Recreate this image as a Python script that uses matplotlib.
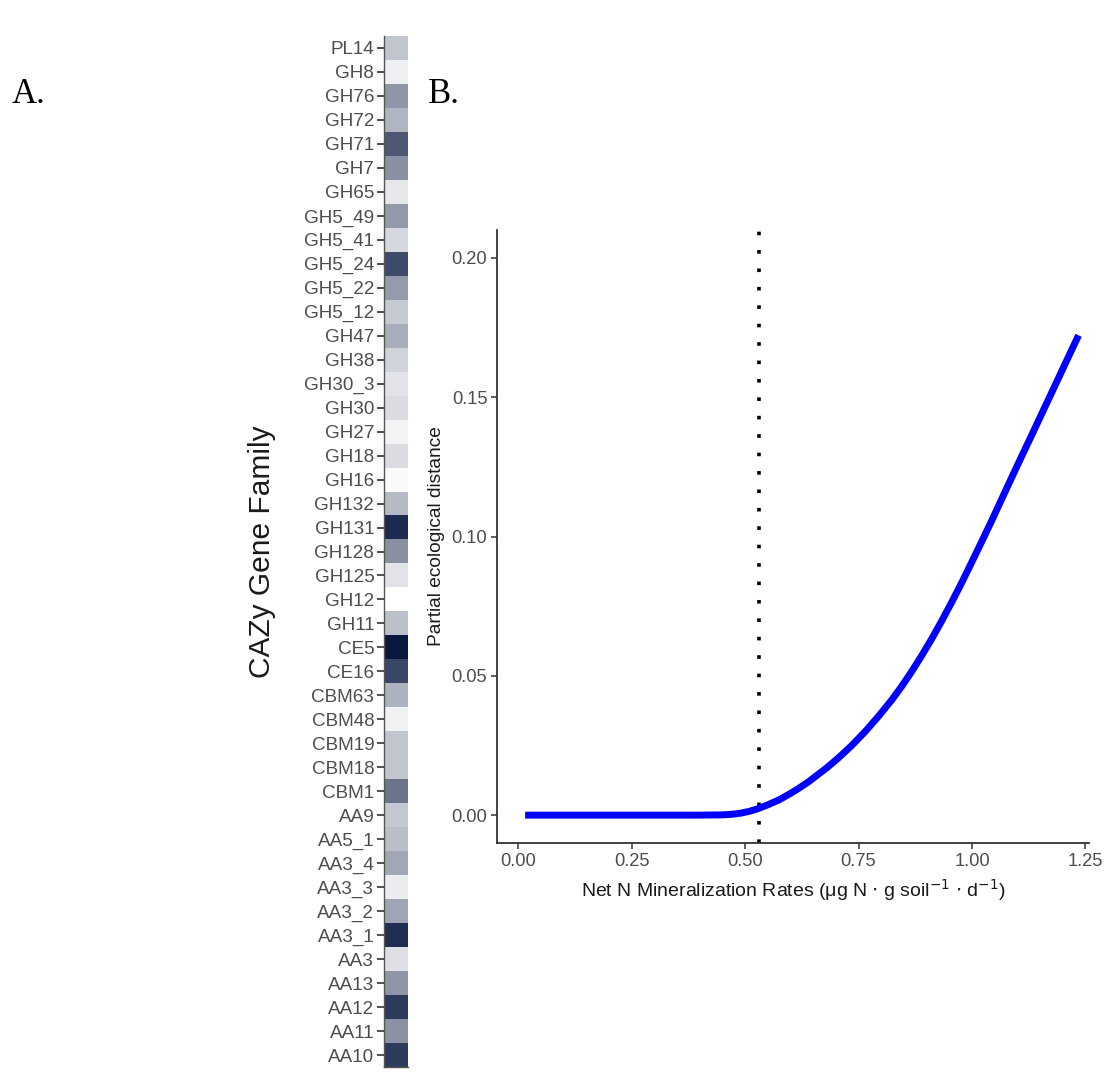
import matplotlib
matplotlib.use("Agg")
import matplotlib.pyplot as plt
from matplotlib.colors import LinearSegmentedColormap
import numpy as np

plt.rcParams["font.family"] = ["Liberation Sans", "DejaVu Sans"]

# panel A: CAZy gene families, top to bottom, with relative abundance (0-1)
families = [
    "PL14", "GH8", "GH76", "GH72", "GH71", "GH7", "GH65", "GH5_49", "GH5_41",
    "GH5_24", "GH5_22", "GH5_12", "GH47", "GH38", "GH30_3", "GH30", "GH27",
    "GH18", "GH16", "GH132", "GH131", "GH128", "GH125", "GH12", "GH11", "CE5",
    "CE16", "CBM63", "CBM48", "CBM19", "CBM18", "CBM1", "AA9", "AA5_1",
    "AA3_4", "AA3_3", "AA3_2", "AA3_1", "AA3", "AA13", "AA12", "AA11", "AA10",
]
abundance = [
    0.25, 0.07, 0.45, 0.32, 0.72, 0.48, 0.10, 0.44, 0.17,
    0.78, 0.43, 0.23, 0.35, 0.19, 0.12, 0.15, 0.05,
    0.15, 0.02, 0.30, 0.92, 0.48, 0.12, 0.00, 0.27, 1.00,
    0.80, 0.33, 0.06, 0.25, 0.25, 0.60, 0.24, 0.28,
    0.38, 0.08, 0.39, 0.90, 0.14, 0.46, 0.85, 0.47, 0.85,
]

# panel B: partial ecological distance along net N mineralization
n_min = [0.015, 0.10, 0.20, 0.30, 0.40, 0.45, 0.47, 0.49, 0.51, 0.528,
         0.55, 0.575, 0.60, 0.618, 0.64, 0.66, 0.68, 0.706, 0.735, 0.764,
         0.793, 0.823, 0.845, 0.867, 0.889, 0.911, 0.933, 0.955, 0.977,
         0.999, 1.021, 1.043, 1.07, 1.10, 1.13, 1.16, 1.19, 1.215, 1.235]
distance = [0.0, 0.0, 0.0, 0.0, 0.0, 0.0001, 0.0003, 0.0007, 0.0014, 0.0023,
            0.0037, 0.0055, 0.0078, 0.0096, 0.0120, 0.0145, 0.0170, 0.0206,
            0.0250, 0.0299, 0.0353, 0.0413, 0.0462, 0.0515, 0.0572, 0.0632,
            0.0696, 0.0763, 0.0833, 0.0906, 0.0980, 0.1055, 0.1150, 0.1255,
            0.1358, 0.1462, 0.1566, 0.1653, 0.1722]
threshold = 0.53

TICK_GREY = "#4d4d4d"
AXIS_GREY = "#333333"

fig = plt.figure(figsize=(11.09, 10.72), dpi=100, facecolor="white")

# ---- A. heatmap column
ax_a = fig.add_axes([384 / 1109, 1 - 1067 / 1072, 24 / 1109, 1031 / 1072])
cmap = LinearSegmentedColormap.from_list("navy", ["#ffffff", "#08183f"])
ax_a.imshow(np.array(abundance)[:, None], cmap=cmap, vmin=0, vmax=1,
            aspect="auto", interpolation="nearest")
ax_a.set_yticks(range(len(families)))
ax_a.set_yticklabels(families, fontsize=13.6, color=TICK_GREY)
ax_a.set_xticks([])
ax_a.tick_params(axis="y", length=5, width=1.2, color=AXIS_GREY, pad=2)
for side in ("top", "right"):
    ax_a.spines[side].set_visible(False)
for side in ("left", "bottom"):
    ax_a.spines[side].set_color("#555555")
    ax_a.spines[side].set_linewidth(1.0)
ax_a.set_ylabel("CAZy Gene Family", fontsize=21.5, color="#1a1a1a", labelpad=20)

# ---- B. partial ecological distance curve
ax_b = fig.add_axes([497 / 1109, 1 - 843 / 1072, 592 / 1109, 613 / 1072])
ax_b.plot(n_min, distance, color="#0000ff", lw=5, solid_capstyle="butt",
          solid_joinstyle="round", zorder=3)
ax_b.axvline(threshold, color="black", lw=2.6, linestyle=(0, (1, 4.1)),
             dash_capstyle="butt", zorder=2)
ax_b.set_xlim(-0.047, 1.258)
ax_b.set_ylim(-0.01, 0.21)
ax_b.set_xticks([0.0, 0.25, 0.5, 0.75, 1.0, 1.25])
ax_b.set_xticklabels(["0.00", "0.25", "0.50", "0.75", "1.00", "1.25"])
ax_b.set_yticks([0.0, 0.05, 0.10, 0.15, 0.20])
ax_b.set_yticklabels(["0.00", "0.05", "0.10", "0.15", "0.20"])
ax_b.tick_params(labelsize=13.2, labelcolor=TICK_GREY, length=4, width=1.1,
                 color=AXIS_GREY, pad=3)
for side in ("top", "right"):
    ax_b.spines[side].set_visible(False)
for side in ("left", "bottom"):
    ax_b.spines[side].set_color(AXIS_GREY)
    ax_b.spines[side].set_linewidth(1.3)
ax_b.set_xlabel(r"Net N Mineralization Rates ($\mathregular{\mu}$g N $\cdot$ g soil$^{-1}$ $\cdot$ d$^{-1}$)",
                fontsize=14, color="#1a1a1a", labelpad=5)
ax_b.set_ylabel("Partial ecological distance", fontsize=13.8, color="#1a1a1a",
                labelpad=5)

# panel letters
fig.text(12 / 1109, 1 - 103 / 1072, "A.", fontsize=25, family="Liberation Serif",
         ha="left", va="baseline")
fig.text(428 / 1109, 1 - 103 / 1072, "B.", fontsize=25, family="Liberation Serif",
         ha="left", va="baseline")

fig.savefig("out.png", dpi=100, facecolor="white")
